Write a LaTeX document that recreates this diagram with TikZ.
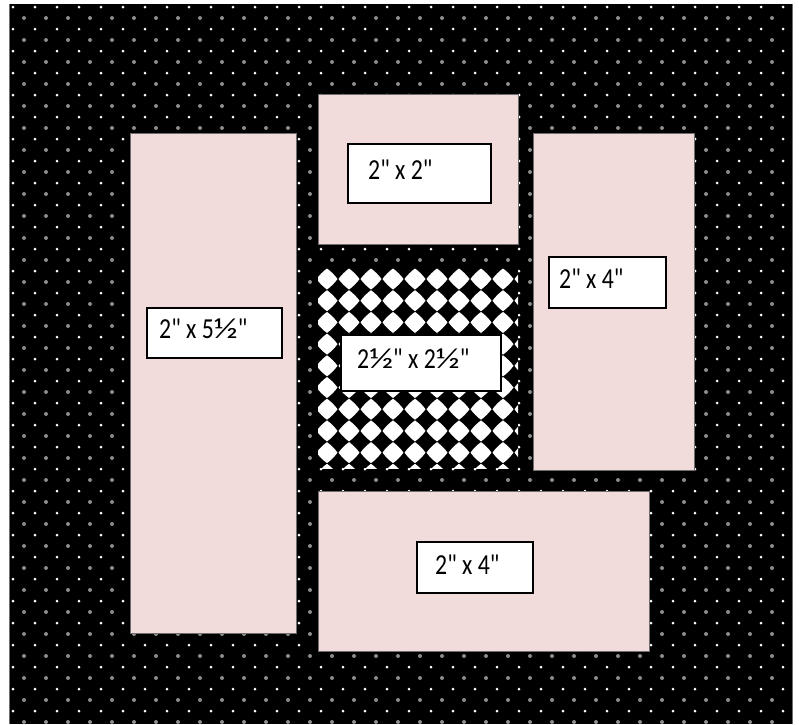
\documentclass[tikz,border=0pt]{standalone}
\usepackage{fontspec}
\newfontfamily\lblfont{Carlito}[FakeStretch=0.82]
\newcommand\hlf{\scalebox{1.5}[1]{½}}
\definecolor{pinkfill}{HTML}{F2DCDB}
\definecolor{dotgray}{HTML}{8C8C8C}
\definecolor{edgegray}{HTML}{6E6E6E}
\tikzset{
  pinkbox/.style={draw=edgegray, line width=0.8pt, fill=pinkfill, inner sep=0pt},
  lbox/.style={draw=black, line width=1.6pt, fill=white, inner sep=0pt},
  lbl/.style={inner sep=0pt, font=\lblfont\fontsize{29}{31}\selectfont, anchor=base west},
}
\begin{document}
\begin{tikzpicture}[x=1pt, y=-1pt]
\useasboundingbox (0,0) rectangle (799,724);
% background
\fill[white] (0,0) rectangle (799,724);
\fill[black] (10,4) rectangle (792,724);
\draw[edgegray, line width=0.8pt] (9.5,4) -- (9.5,724);
\draw[edgegray, line width=0.8pt] (792.5,4) -- (792.5,724);
% dot pattern
\begin{scope}
\clip (10,4) rectangle (792,724);
\fill[dotgray] \foreach \i in {0,...,35} { \foreach \j in {0,...,32} { (24+22*\i, 18+22*\j) circle[radius=2] } };
\fill[white] \foreach \i in {0,...,35} { \foreach \j in {0,...,32} { (13+22*\i, 7+22*\j) circle[radius=1.5] } };
\end{scope}
% pink panels
\node[pinkbox, minimum width=166, minimum height=500] (p1) at (213,383) {};
\node[pinkbox, minimum width=200, minimum height=150] (p2) at (418,169) {};
\node[pinkbox, minimum width=161, minimum height=337] (p3) at (613.5,301.5) {};
\node[pinkbox, minimum width=331, minimum height=160] (p4) at (483.5,571) {};
% checker panel
\coordinate (cknw) at (318,268);
\coordinate (ckse) at (518,468);
\begin{scope}
\fill[black] (cknw) rectangle (ckse);
\clip (cknw) rectangle (ckse);
\foreach \i in {0,...,9} { \foreach \j in {0,...,9} {
  \fill[white, shift={(327+22*\i, 279+21.7*\j)}] (10.5,0)
    .. controls (7.9,3.7) and (3.7,7.9) .. (0,10.5)
    .. controls (-3.7,7.9) and (-7.9,3.7) .. (-10.5,0)
    .. controls (-7.9,-3.7) and (-3.7,-7.9) .. (0,-10.5)
    .. controls (3.7,-7.9) and (7.9,-3.7) .. (10.5,0) -- cycle;
} }
\end{scope}
% label boxes
\node[lbox, minimum width=143, minimum height=59] (b2) at (419.5,173.5) {};
\node[lbl] (t2) at (368,179) {2" x 2"};
\node[lbox, minimum width=135, minimum height=50] (b1) at (214.5,333) {};
\node[lbl] (t1) at (159,338) {2" x 5\hlf"};
\node[lbox, minimum width=160, minimum height=56] (b5) at (421,363) {};
\node[lbl] (t5) at (357,368) {2\hlf" x 2\hlf"};
\node[lbox, minimum width=117, minimum height=51] (b3) at (607.5,282.5) {};
\node[lbl] (t3) at (559,288) {2" x 4"};
\node[lbox, minimum width=116, minimum height=51] (b4) at (475,567.5) {};
\node[lbl] (t4) at (435,574) {2" x 4"};
\end{tikzpicture}
\end{document}
